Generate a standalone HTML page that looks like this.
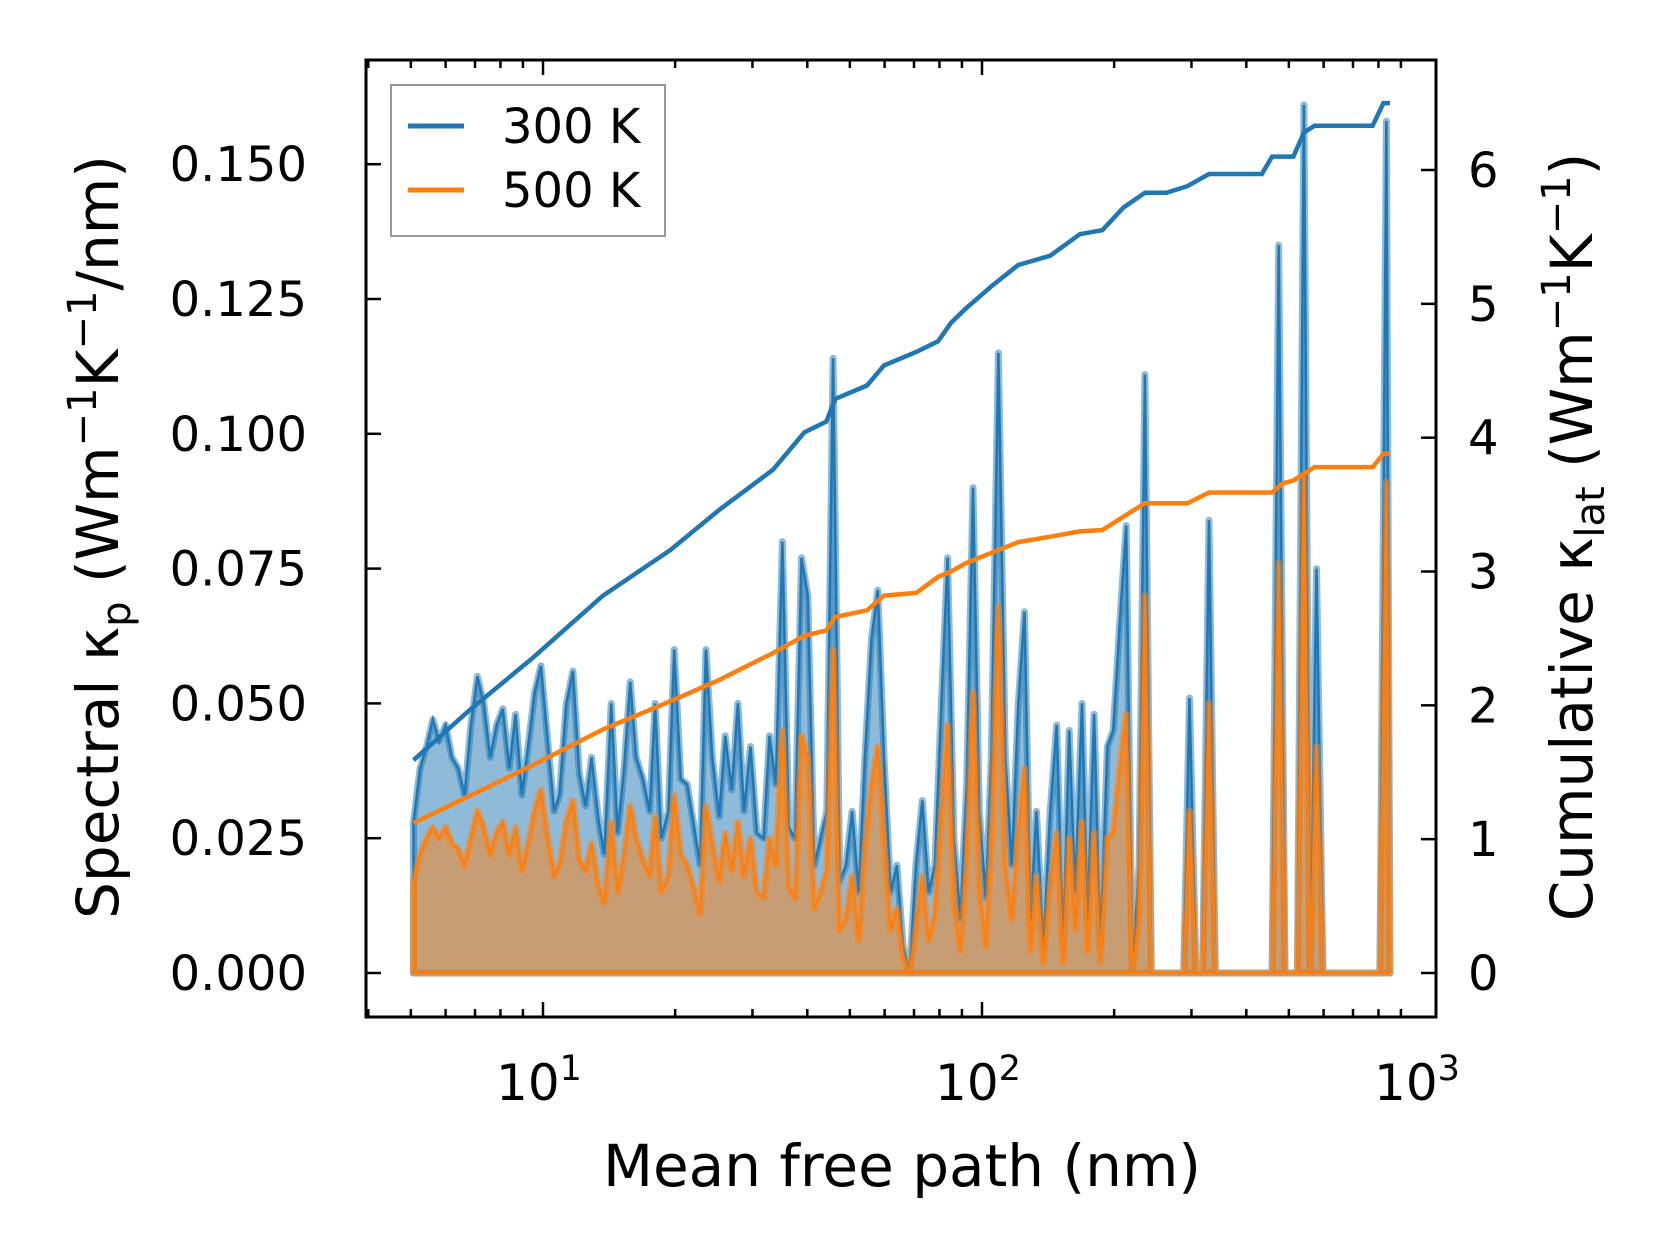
<!DOCTYPE html>
<html><head><meta charset="utf-8"><style>
html,body{margin:0;padding:0;background:#fff;}
svg{display:block;font-family:"DejaVu Sans","Liberation Sans",sans-serif;}
</style></head><body>
<svg id="chart" width="1660" height="1254" viewBox="0 0 1660 1254" xmlns="http://www.w3.org/2000/svg">
<g id="plot"></g>
<g id="axes"></g>
</svg>
<script>
const mfpNm = [5.07,5.25,5.43,5.61,5.80,6.00,6.20,6.41,6.63,6.85,7.09,7.33,7.58,7.84,8.10,8.38,8.66,8.95,9.25,9.57,9.89,10.2,10.6,10.9,11.3,11.7,12.1,12.5,12.9,13.4,13.8,14.3,14.8,15.3,15.8,16.3,16.9,17.5,18.0,18.6,19.3,19.9,20.6,21.3,22.0,22.8,23.5,24.3,25.2,26.0,26.9,27.8,28.7,29.7,30.7,31.8,32.8,33.9,35.1,36.3,37.5,38.8,40.1,41.5,42.9,44.3,45.8,47.4,49.0,50.6,52.4,54.1,56.0,57.9,59.8,61.9,64.0,66.1,68.4,70.7,73.1,75.6,78.1,80.8,83.5,86.3,89.3,92.3,95.4,98.6,102,105,109,113,117,121,125,129,133,138,143,148,153,158,163,169,174,180,186,193,199,206,213,220,228,235,243,252,260,269,278,288,297,307,318,329,340,351,363,375,388,401,415,429,443,458,474,490,506,523,541,559,578,598,618,639,661,683,706,730,755,780,806,834,850];
const spec300 = [.028,.038,.042,.047,.043,.046,.040,.038,.033,.046,.055,.050,.040,.046,.049,.038,.048,.033,.042,.052,.057,.045,.030,.033,.050,.056,.037,.031,.040,.028,.022,.050,.026,.038,.054,.040,.036,.030,.050,.025,.030,.060,.036,.035,.028,.020,.060,.040,.029,.044,.034,.050,.030,.042,.026,.025,.044,.035,.080,.027,.025,.077,.070,.020,.025,.030,.114,.017,.020,.030,.015,.040,.062,.071,.040,.015,.020,.005,.000,.020,.032,.015,.020,.050,.077,.025,.010,.035,.090,.030,.014,.040,.115,.040,.020,.050,.067,.010,.030,.005,.030,.046,.005,.045,.015,.050,.010,.048,.005,.042,.045,.065,.083,.000,.020,.111,.000,.000,.000,.000,.000,.000,.051,.000,.000,.084,.000,.000,.000,.000,.000,.000,.000,.000,.000,.000,.135,.000,.000,.000,.161,.000,.075,.000,.000,.000,.000,.000,.000,.000,.000,.000,.000,.158,.000,.000];
const spec500 = [.017,.022,.025,.027,.025,.027,.024,.023,.020,.025,.030,.027,.022,.026,.028,.022,.027,.019,.024,.030,.034,.026,.018,.020,.028,.032,.021,.019,.024,.016,.013,.028,.015,.022,.031,.025,.021,.018,.029,.015,.018,.033,.022,.020,.016,.011,.031,.024,.017,.026,.019,.028,.018,.025,.015,.014,.025,.020,.045,.016,.014,.044,.040,.012,.015,.019,.060,.008,.010,.018,.006,.023,.035,.042,.024,.008,.012,.003,.000,.008,.018,.006,.011,.029,.046,.014,.004,.020,.052,.016,.005,.024,.068,.020,.010,.026,.038,.004,.018,.002,.016,.026,.002,.025,.008,.028,.004,.026,.002,.025,.026,.038,.048,.000,.010,.070,.000,.000,.000,.000,.000,.000,.030,.000,.000,.050,.000,.000,.000,.000,.000,.000,.000,.000,.000,.000,.076,.000,.000,.000,.092,.000,.042,.000,.000,.000,.000,.000,.000,.000,.000,.000,.000,.091,.000,.000];
const cumNm = [5.07,6.78,9.44,13.7,19.5,25.2,33.4,39.4,44.2,46.3,54.7,59.8,70.8,79.4,85.1,91.5,105,121,143,167,188,210,235,263,294,329,434,458,485,512,541,572,776,821,850];
const cum300 = [1.59,1.96,2.35,2.82,3.16,3.46,3.76,4.04,4.12,4.29,4.39,4.54,4.64,4.72,4.86,4.96,5.13,5.29,5.36,5.52,5.55,5.72,5.83,5.83,5.88,5.97,5.97,6.10,6.10,6.10,6.28,6.33,6.33,6.50,6.50];
const cum500 = [1.12,1.32,1.55,1.82,2.03,2.19,2.39,2.52,2.56,2.66,2.71,2.82,2.84,2.96,3.00,3.06,3.14,3.22,3.26,3.30,3.31,3.41,3.51,3.51,3.51,3.59,3.59,3.59,3.66,3.68,3.73,3.78,3.78,3.88,3.88];
const yLeftTicks = [0,0.025,0.05,0.075,0.1,0.125,0.15];
const yLeftLabels = ["0.000","0.025","0.050","0.075","0.100","0.125","0.150"];
const yRightTicks = [0,1,2,3,4,5,6];
const xMajor = [10,100,1000];
const xMajorExp = ["1","2","3"];

const L=366,R=1436,T=60,B=1017;
const X=v=>543+439*(Math.log10(v)-1);
const Y=v=>973-v/0.025*134.8;
const YR=v=>973-v*(973-170)/6;
const NS='http://www.w3.org/2000/svg';
const plot=document.getElementById('plot'), axes=document.getElementById('axes');
function mk(tag,attrs,parent){const e=document.createElementNS(NS,tag);for(const k in attrs)e.setAttribute(k,attrs[k]);parent.appendChild(e);return e;}

function areaPath(vals){
  let d='M'+X(mfpNm[0])+','+Y(0);
  mfpNm.forEach((m,i)=>{d+=' L'+X(m).toFixed(1)+','+Y(vals[i]).toFixed(1);});
  d+=' L'+X(mfpNm[mfpNm.length-1])+','+Y(0)+' Z';return d;
}
function linePath(xs,vs,fy){return xs.map((m,i)=>(i?'L':'M')+X(m).toFixed(1)+','+fy(vs[i]).toFixed(1)).join(' ');}

const a3=mk('path',{d:areaPath(spec300),fill:'rgba(31,119,180,0.5)',stroke:'rgba(31,119,180,0.5)','stroke-width':7,'stroke-linejoin':'round'},plot);


const l3=mk('path',{d:areaPath(spec300),fill:'none',stroke:'#1f77b4','stroke-width':2.5},plot);


const a5=mk('path',{d:areaPath(spec500),fill:'rgba(255,127,14,0.5)',stroke:'rgba(255,127,14,0.5)','stroke-width':7,'stroke-linejoin':'round'},plot);


const l5=mk('path',{d:areaPath(spec500),fill:'none',stroke:'#ff7f0e','stroke-width':2.5},plot);


const c3=mk('path',{d:linePath(cumNm,cum300,YR),fill:'none',stroke:'#1f77b4','stroke-width':4.5},plot);


const c5=mk('path',{d:linePath(cumNm,cum500,YR),fill:'none',stroke:'#ff7f0e','stroke-width':4.5},plot);



const frame=mk('rect',{x:L,y:T,width:R-L,height:B-T,fill:'none',stroke:'#000','stroke-width':3},axes);



yLeftTicks.forEach((v,i)=>{
  const y=Y(v);
  const t=mk('line',{x1:L,x2:L+15,y1:y,y2:y,stroke:'#000','stroke-width':2.5},axes);
  
  
  const tx=mk('text',{x:307,y:y+17,'text-anchor':'end','font-size':48},axes);
  tx.textContent=yLeftLabels[i];
  
  
});
yRightTicks.forEach(v=>{
  const y=YR(v);
  const t=mk('line',{x1:R-15,x2:R,y1:y,y2:y,stroke:'#000','stroke-width':2.5},axes);
  
  
  const tx=mk('text',{x:1468,y:y+17,'font-size':48},axes);
  tx.textContent=String(v);
  
  
});
for(let d=0;d<3;d++){for(let k=1;k<10;k++){
  const v=k*Math.pow(10,d);if(v<4)continue;const x=X(v);if(x>R)continue;
  const len=k===1?15:8;
  [[B,B-len],[T,T+len]].forEach(p=>{
    const t=mk('line',{x1:x,x2:x,y1:p[0],y2:p[1],stroke:'#000','stroke-width':2.5},axes);
    
    
  });
}}
xMajor.forEach((v,i)=>{
  const tx=mk('text',{x:X(v)-4,y:1100,'text-anchor':'middle','font-size':50},axes);
  tx.textContent='10';
  const s=mk('tspan',{dy:-20,'font-size':35},tx);s.textContent=xMajorExp[i];
  
  
});
</script>
<svg style="position:absolute;left:0;top:0" width="1660" height="1254" xmlns="http://www.w3.org/2000/svg" font-family="DejaVu Sans, Liberation Sans, sans-serif">
<text x="902" y="1186" text-anchor="middle" font-size="58">Mean free path (nm)</text>
<text transform="translate(118,537) rotate(-90)" text-anchor="middle" font-size="58">Spectral κ<tspan font-size="40" dy="12">p</tspan><tspan dy="-12"> (Wm</tspan><tspan font-size="40" dy="-22">−1</tspan><tspan dy="22">K</tspan><tspan font-size="40" dy="-22">−1</tspan><tspan dy="22">/nm)</tspan></text>
<text transform="translate(1592,537) rotate(-90)" text-anchor="middle" font-size="58">Cumulative κ<tspan font-size="40" dy="12">lat</tspan><tspan dy="-12"> (Wm</tspan><tspan font-size="40" dy="-22">−1</tspan><tspan dy="22">K</tspan><tspan font-size="40" dy="-22">−1</tspan><tspan dy="22">)</tspan></text>
<g>
<rect x="391" y="85" width="274" height="151" fill="#fff" fill-opacity="0.8" stroke="#999" stroke-width="2"/>
<line x1="408" x2="464" y1="126" y2="126" stroke="#1f77b4" stroke-width="5"/>
<text x="502" y="143" font-size="48">300 K</text>
<line x1="408" x2="464" y1="190" y2="190" stroke="#ff7f0e" stroke-width="5"/>
<text x="502" y="207" font-size="48">500 K</text>
</g>
</svg>
</body></html>
